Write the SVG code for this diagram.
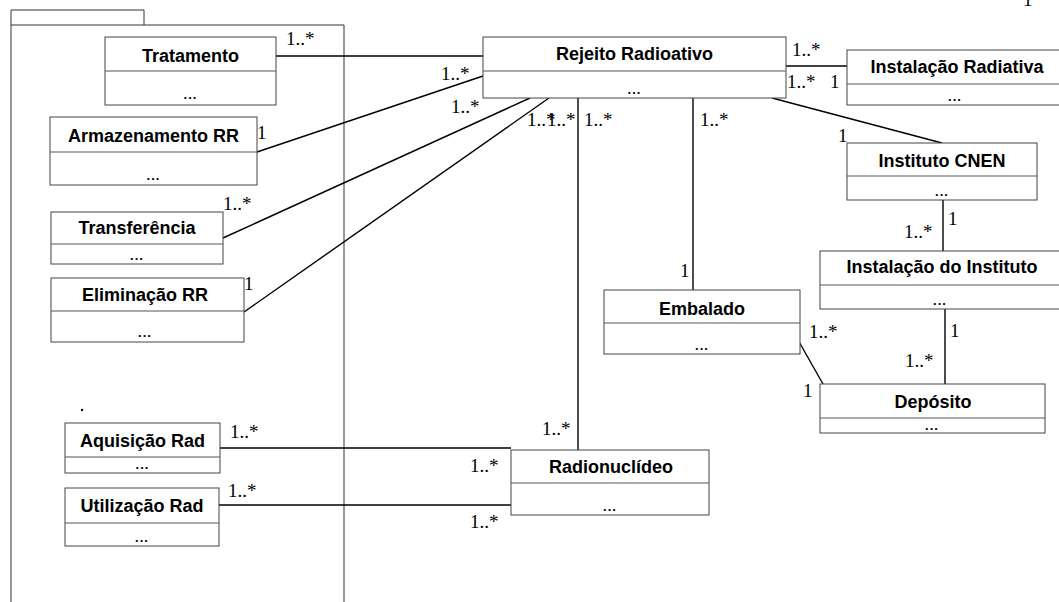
<svg xmlns="http://www.w3.org/2000/svg" width="1059" height="602" viewBox="0 0 1059 602">
<style>
.box{fill:#fff;stroke:#444;stroke-width:1}
.div{stroke:#555;stroke-width:1}
.t{font-family:"Liberation Sans",Arial,sans-serif;font-weight:bold;font-size:18px;fill:#000;text-anchor:middle}
.d{font-family:"Liberation Sans",Arial,sans-serif;font-size:13px;font-weight:bold;letter-spacing:1px;fill:#000;text-anchor:middle}
.m{font-family:"Liberation Serif","Times New Roman",serif;font-size:19px;fill:#000}
.c{stroke:#000;stroke-width:1.4;fill:none}
.pk{fill:none;stroke:#333;stroke-width:1}
</style>
<rect width="1059" height="602" fill="#fff"/>
<g id="package">
<path class="pk" d="M11,602 V10 H144 V25"/>
<path class="pk" d="M11,25 H344 V602"/>
<circle cx="82" cy="410" r="1.2" fill="#000"/>
</g>
<g id="connectors">
<line class="c" x1="276" y1="56" x2="483" y2="56"/>
<line class="c" x1="257" y1="152" x2="483" y2="76"/>
<line class="c" x1="223" y1="238" x2="530" y2="98"/>
<line class="c" x1="244" y1="312" x2="549" y2="98"/>
<line class="c" x1="578" y1="98" x2="578" y2="450"/>
<line class="c" x1="693" y1="98" x2="693" y2="290"/>
<line class="c" x1="786" y1="66" x2="847" y2="66"/>
<line class="c" x1="772" y1="98" x2="942" y2="143"/>
<line class="c" x1="943" y1="200" x2="943" y2="251"/>
<line class="c" x1="945" y1="309" x2="945" y2="384"/>
<line class="c" x1="798" y1="340" x2="823" y2="384"/>
<line class="c" x1="220" y1="448" x2="511" y2="448"/>
<line class="c" x1="219" y1="505" x2="511" y2="505"/>
</g>
<g id="labels">
<text class="m" x="286" y="45">1..*</text>
<text class="m" x="441" y="80">1..*</text>
<text class="m" x="451" y="113">1..*</text>
<text class="m" x="257" y="139">1</text>
<text class="m" x="223" y="210">1..*</text>
<text class="m" x="244" y="290">1</text>
<text class="m" x="527" y="126">1..*</text>
<text class="m" x="547" y="126">1..*</text>
<text class="m" x="584" y="126">1..*</text>
<text class="m" x="700" y="126">1..*</text>
<text class="m" x="792" y="56">1..*</text>
<text class="m" x="787" y="88">1..*</text>
<text class="m" x="830" y="88">1</text>
<text class="m" x="838" y="142">1</text>
<text class="m" x="1023" y="6">1</text>
<text class="m" x="948" y="225">1</text>
<text class="m" x="904" y="238">1..*</text>
<text class="m" x="950" y="337">1</text>
<text class="m" x="809" y="338">1..*</text>
<text class="m" x="905" y="367">1..*</text>
<text class="m" x="803" y="397">1</text>
<text class="m" x="680" y="277">1</text>
<text class="m" x="230" y="438">1..*</text>
<text class="m" x="228" y="497">1..*</text>
<text class="m" x="542" y="435">1..*</text>
<text class="m" x="470" y="472">1..*</text>
<text class="m" x="470" y="528">1..*</text>
</g>
<g id="tratamento">
<rect class="box" x="105" y="37" width="171" height="68"/>
<line class="div" x1="105" y1="71" x2="276" y2="71"/>
<text class="t" x="190.5" y="62">Tratamento</text>
<text class="d" x="190.5" y="99">...</text>
</g>
<g id="armazenamento">
<rect class="box" x="50" y="117" width="207" height="68"/>
<line class="div" x1="50" y1="152" x2="257" y2="152"/>
<text class="t" x="153.5" y="142">Armazenamento RR</text>
<text class="d" x="153.5" y="180">...</text>
</g>
<g id="transferencia">
<rect class="box" x="51" y="212" width="172" height="52"/>
<line class="div" x1="51" y1="244" x2="223" y2="244"/>
<text class="t" x="137" y="234">Transferência</text>
<text class="d" x="137" y="260">...</text>
</g>
<g id="eliminacao">
<rect class="box" x="51" y="278" width="193" height="64"/>
<line class="div" x1="51" y1="311" x2="244" y2="311"/>
<text class="t" x="145" y="301">Eliminação RR</text>
<text class="d" x="145" y="337">...</text>
</g>
<g id="aquisicao">
<rect class="box" x="65" y="423" width="155" height="50"/>
<line class="div" x1="65" y1="457" x2="220" y2="457"/>
<text class="t" x="142.5" y="447">Aquisição Rad</text>
<text class="d" x="142.5" y="469">...</text>
</g>
<g id="utilizacao">
<rect class="box" x="65" y="488" width="154" height="58"/>
<line class="div" x1="65" y1="523" x2="219" y2="523"/>
<text class="t" x="142" y="512">Utilização Rad</text>
<text class="d" x="142" y="542">...</text>
</g>
<g id="rejeito">
<rect class="box" x="483" y="37" width="303" height="61"/>
<line class="div" x1="483" y1="71" x2="786" y2="71"/>
<text class="t" x="634.5" y="60">Rejeito Radioativo</text>
<text class="d" x="634.5" y="94">...</text>
</g>
<g id="instalacao-radiativa">
<rect class="box" x="847" y="50" width="215" height="55"/>
<line class="div" x1="847" y1="84" x2="1059" y2="84"/>
<text class="t" x="957" y="73">Instalação Radiativa</text>
<text class="d" x="955" y="101">...</text>
</g>
<g id="instituto-cnen">
<rect class="box" x="847" y="143" width="190" height="57"/>
<line class="div" x1="847" y1="176" x2="1037" y2="176"/>
<text class="t" x="942" y="167">Instituto CNEN</text>
<text class="d" x="942" y="196">...</text>
</g>
<g id="instalacao-instituto">
<rect class="box" x="820" y="251" width="243" height="58"/>
<line class="div" x1="820" y1="285" x2="1059" y2="285"/>
<text class="t" x="942" y="273">Instalação do Instituto</text>
<text class="d" x="940" y="305">...</text>
</g>
<g id="embalado">
<rect class="box" x="604" y="290" width="196" height="64"/>
<line class="div" x1="604" y1="323" x2="800" y2="323"/>
<text class="t" x="702" y="315">Embalado</text>
<text class="d" x="702" y="350">...</text>
</g>
<g id="deposito">
<rect class="box" x="820" y="384" width="225" height="49"/>
<line class="div" x1="820" y1="418" x2="1045" y2="418"/>
<text class="t" x="933" y="408">Depósito</text>
<text class="d" x="932" y="430">...</text>
</g>
<g id="radionuclideo">
<rect class="box" x="511" y="450" width="198" height="65"/>
<line class="div" x1="511" y1="483" x2="709" y2="483"/>
<text class="t" x="611" y="473">Radionuclídeo</text>
<text class="d" x="610" y="511">...</text>
</g>
</svg>
